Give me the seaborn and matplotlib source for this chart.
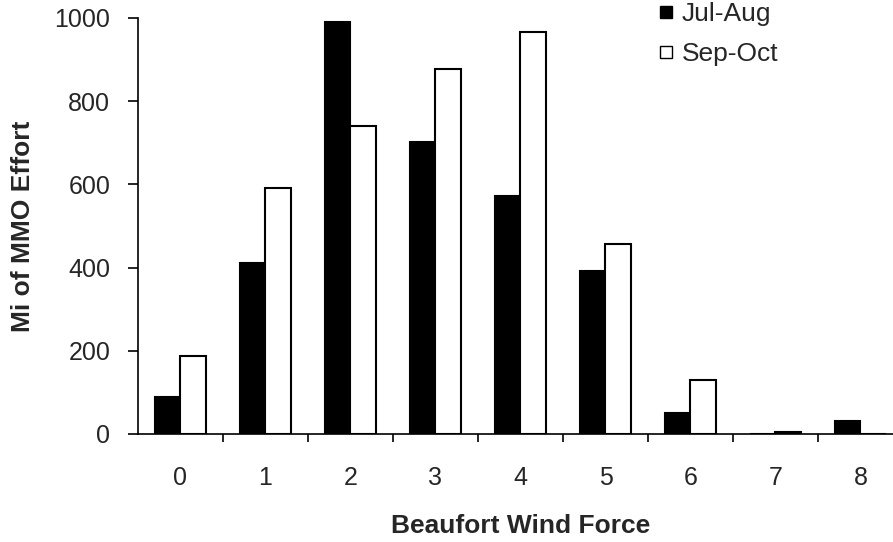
import pandas as pd
import seaborn as sns
import matplotlib.pyplot as plt
from matplotlib.lines import Line2D

# Values
wind_force = ['0', '1', '2', '3', '4', '5', '6', '7', '8']
jul_aug = [89, 411, 991, 703, 572, 392, 50, 0, 32]
sep_oct = [187, 591, 740, 878, 966, 457, 130, 5, 0]
periods = ['Jul-Aug', 'Sep-Oct']

df = pd.DataFrame({
    'force': wind_force * 2,
    'effort': jul_aug + sep_oct,
    'period': [periods[0]] * len(wind_force) + [periods[1]] * len(wind_force),
})

sns.set_style('white')
plt.rcParams['font.family'] = ['Liberation Sans', 'DejaVu Sans']

fig = plt.figure(figsize=(8.93, 5.42), dpi=100)
ax = fig.add_axes([0.1545, 0.1993, 0.8567, 0.7675])

sns.barplot(data=df, x='force', y='effort', hue='period', order=wind_force,
            hue_order=periods, palette=['black', 'white'], edgecolor='black',
            linewidth=1.5, width=0.6, gap=0, legend=False, ax=ax)

ax.set_xlim(-0.5, 8.5)
ax.set_ylim(0, 1000)
ax.set_yticks([0, 200, 400, 600, 800, 1000])

# ticks sit between categories, labels at centres
ax.set_xticks(range(len(wind_force)))
ax.set_xticklabels(wind_force)
ax.set_xticks([i + 0.5 for i in range(len(wind_force) - 1)], minor=True)
ax.tick_params(axis='x', which='major', length=0, pad=23, labelsize=18)
ax.tick_params(axis='x', which='minor', direction='out', length=6, width=1.2,
               bottom=True, color='black')
ax.tick_params(axis='y', direction='out', length=7, width=1.2, left=True,
               labelsize=18, color='black', pad=13)

sns.despine(ax=ax)
for side in ['left', 'bottom']:
    ax.spines[side].set_color('black')
    ax.spines[side].set_linewidth(1.2)

ax.set_xlabel('Beaufort Wind Force', fontsize=19, fontweight='bold', labelpad=17)
ax.set_ylabel('Mi of MMO Effort', fontsize=19, fontweight='bold', labelpad=14)

handles = [
    Line2D([], [], marker='s', linestyle='', markersize=9,
           markerfacecolor='black', markeredgecolor='black'),
    Line2D([], [], marker='s', linestyle='', markersize=9,
           markerfacecolor='white', markeredgecolor='black', markeredgewidth=1),
]
fig.legend(handles, periods, loc='upper left', bbox_to_anchor=(658 / 893, 0.996),
           bbox_transform=fig.transFigure, frameon=False, fontsize=19,
           handlelength=0.6, handletextpad=0.3, labelspacing=0.6,
           borderpad=0, borderaxespad=0)

plt.savefig('out.png', dpi=100)
